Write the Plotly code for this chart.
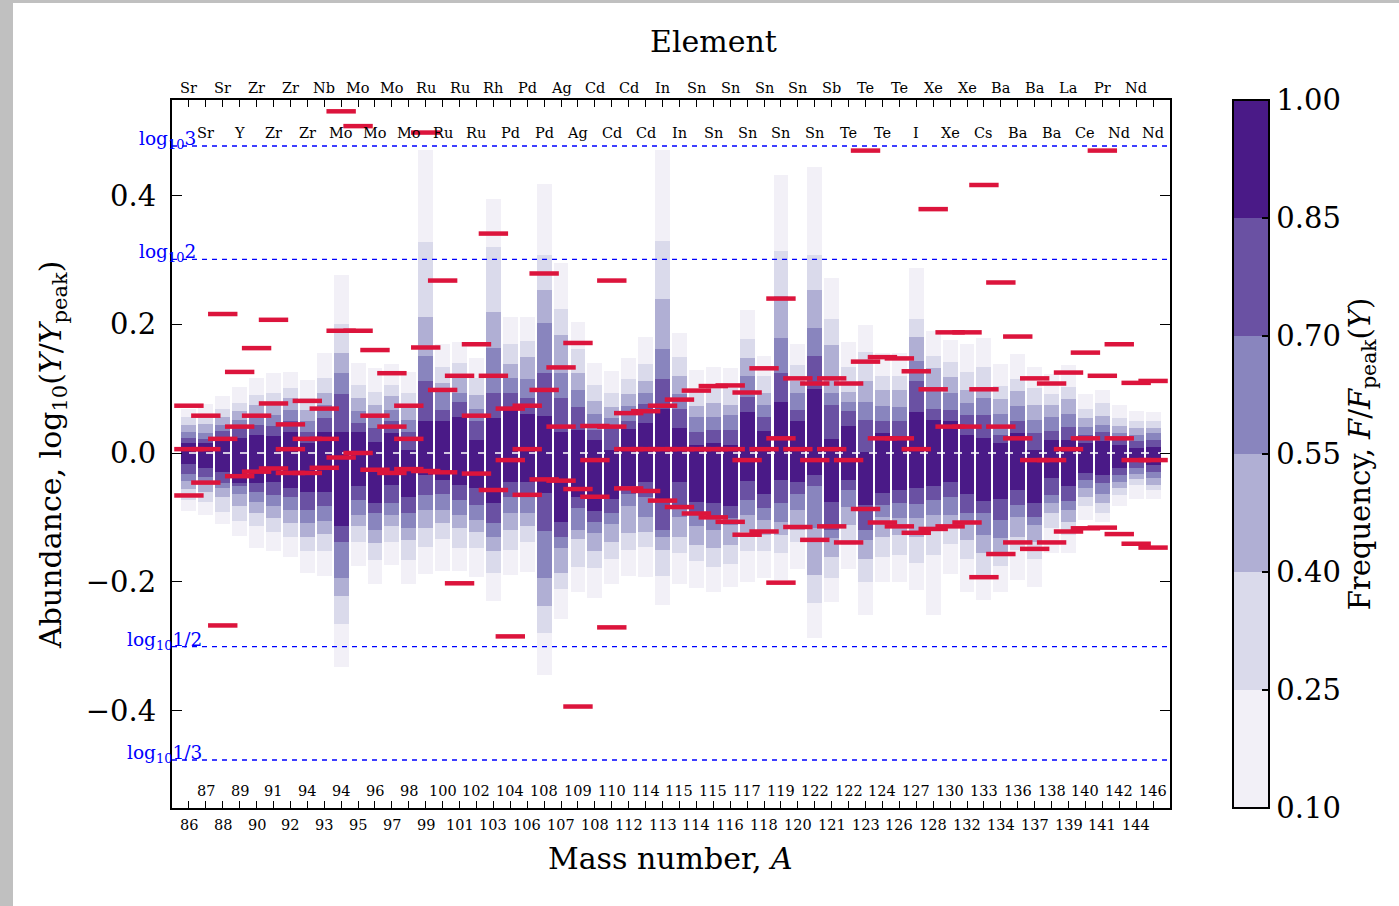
import plotly.graph_objects as go
import math

# ---------------- data ----------------
elem_outer = ["Sr","Sr","Zr","Zr","Nb","Mo","Mo","Ru","Ru","Rh","Pd","Ag","Cd","Cd","In",
              "Sn","Sn","Sn","Sn","Sb","Te","Te","Xe","Xe","Ba","Ba","La","Pr","Nd"]
elem_inner = ["Sr","Y","Zr","Zr","Mo","Mo","Mo","Ru","Ru","Pd","Pd","Ag","Cd","Cd","In",
              "Sn","Sn","Sn","Sn","Te","Te","I","Xe","Cs","Ba","Ba","Ce","Nd","Nd"]
mass_outer = [86,88,90,92,93,95,97,99,101,103,106,107,108,112,113,114,116,118,120,121,
              123,126,128,132,134,137,139,141,144]
mass_inner = [87,89,91,94,94,96,98,100,102,104,108,109,110,114,115,115,117,119,122,122,
              124,127,130,133,136,138,140,142,146]

levels = [0.10, 0.25, 0.40, 0.55, 0.70, 0.85]

top_010 = [0.069,0.076,0.089,0.102,0.116,0.124,0.126,0.114,0.155,0.277,0.140,0.132,0.138,0.126,0.471,
           0.170,0.172,0.148,0.395,0.211,0.211,0.418,0.296,0.204,0.140,0.128,0.147,0.180,0.471,0.186,
           0.129,0.134,0.132,0.222,0.151,0.432,0.169,0.445,0.272,0.172,0.199,0.155,0.155,0.288,0.190,
           0.175,0.170,0.179,0.138,0.154,0.133,0.123,0.136,0.091,0.098,0.075,0.065,0.063]
top_025 = [0.056,0.055,0.069,0.077,0.090,0.094,0.101,0.085,0.116,0.201,0.106,0.095,0.106,0.094,0.328,
           0.134,0.140,0.116,0.320,0.170,0.174,0.307,0.224,0.161,0.106,0.094,0.115,0.138,0.329,0.149,
           0.098,0.103,0.101,0.177,0.120,0.314,0.136,0.307,0.208,0.134,0.157,0.120,0.120,0.208,0.151,
           0.141,0.126,0.134,0.104,0.115,0.101,0.091,0.103,0.068,0.077,0.054,0.050,0.049]
top_040 = [0.043,0.045,0.056,0.065,0.075,0.080,0.085,0.067,0.094,0.155,0.086,0.075,0.088,0.075,0.212,
           0.109,0.120,0.090,0.219,0.138,0.149,0.253,0.183,0.124,0.081,0.071,0.091,0.112,0.239,0.120,
           0.073,0.077,0.075,0.147,0.094,0.244,0.112,0.253,0.168,0.095,0.112,0.098,0.098,0.181,0.132,
           0.118,0.098,0.101,0.084,0.096,0.075,0.075,0.084,0.055,0.057,0.042,0.039,0.039]
top_055 = [0.033,0.031,0.043,0.052,0.059,0.059,0.067,0.049,0.075,0.124,0.065,0.056,0.067,0.052,0.150,
           0.097,0.094,0.069,0.163,0.116,0.115,0.202,0.125,0.098,0.060,0.054,0.073,0.094,0.161,0.091,
           0.056,0.056,0.059,0.120,0.075,0.179,0.094,0.194,0.093,0.080,0.080,0.073,0.071,0.143,0.098,
           0.094,0.078,0.086,0.061,0.073,0.052,0.056,0.061,0.040,0.044,0.031,0.028,0.031]
top_070 = [0.024,0.022,0.034,0.039,0.043,0.042,0.049,0.032,0.054,0.091,0.047,0.039,0.049,0.033,0.112,
           0.067,0.080,0.050,0.093,0.094,0.085,0.124,0.086,0.071,0.035,0.039,0.050,0.076,0.115,0.069,
           0.033,0.035,0.035,0.087,0.056,0.124,0.067,0.150,0.075,0.065,0.052,0.049,0.049,0.112,0.069,
           0.067,0.059,0.059,0.028,0.049,0.031,0.034,0.040,0.028,0.033,0.023,0.019,0.020]
top_085 = [0.015,0.016,0.020,0.024,0.028,0.027,0.032,0.015,0.033,0.033,0.033,0.017,0.031,0.005,0.050,
           0.050,0.056,0.020,0.055,0.069,0.061,0.057,0.033,0.035,0.020,0.005,0.037,0.047,0.068,0.039,
           0.013,0.015,0.013,0.064,0.034,0.080,0.049,0.100,0.022,0.042,0.002,0.031,0.026,0.064,0.052,
           0.050,0.028,0.023,0.015,0.031,0.005,0.020,0.020,0.015,0.018,0.012,0.008,0.010]

bot_010 = [-0.090,-0.096,-0.110,-0.129,-0.147,-0.152,-0.162,-0.186,-0.191,-0.332,-0.176,-0.204,-0.174,-0.203,-0.188,
           -0.184,-0.184,-0.192,-0.230,-0.190,-0.185,-0.345,-0.258,-0.216,-0.226,-0.203,-0.191,-0.192,-0.236,-0.204,
           -0.210,-0.216,-0.208,-0.200,-0.195,-0.197,-0.181,-0.288,-0.231,-0.181,-0.252,-0.201,-0.201,-0.213,-0.252,
           -0.188,-0.216,-0.228,-0.216,-0.197,-0.208,-0.156,-0.156,-0.104,-0.107,-0.082,-0.072,-0.072]
bot_025 = [-0.073,-0.076,-0.091,-0.105,-0.114,-0.122,-0.131,-0.153,-0.153,-0.266,-0.139,-0.166,-0.139,-0.166,-0.146,
           -0.133,-0.147,-0.148,-0.186,-0.151,-0.138,-0.280,-0.212,-0.177,-0.179,-0.165,-0.151,-0.146,-0.191,-0.155,
           -0.168,-0.177,-0.173,-0.153,-0.153,-0.156,-0.139,-0.233,-0.195,-0.143,-0.200,-0.161,-0.158,-0.171,-0.158,
           -0.141,-0.164,-0.192,-0.176,-0.151,-0.165,-0.117,-0.128,-0.082,-0.093,-0.065,-0.050,-0.058]
bot_040 = [-0.056,-0.060,-0.068,-0.082,-0.094,-0.101,-0.109,-0.130,-0.126,-0.222,-0.114,-0.140,-0.114,-0.135,-0.117,
           -0.109,-0.117,-0.122,-0.152,-0.120,-0.114,-0.238,-0.186,-0.134,-0.152,-0.138,-0.125,-0.122,-0.151,-0.130,
           -0.143,-0.147,-0.143,-0.122,-0.128,-0.128,-0.120,-0.190,-0.162,-0.112,-0.165,-0.130,-0.128,-0.130,-0.120,
           -0.117,-0.135,-0.155,-0.158,-0.130,-0.138,-0.094,-0.107,-0.068,-0.077,-0.054,-0.041,-0.050]
bot_055 = [-0.043,-0.047,-0.055,-0.063,-0.076,-0.082,-0.089,-0.108,-0.105,-0.195,-0.096,-0.120,-0.096,-0.117,-0.088,
           -0.089,-0.096,-0.104,-0.130,-0.094,-0.094,-0.195,-0.147,-0.119,-0.125,-0.111,-0.082,-0.099,-0.131,-0.099,
           -0.113,-0.119,-0.112,-0.096,-0.104,-0.107,-0.089,-0.117,-0.132,-0.084,-0.135,-0.100,-0.101,-0.101,-0.096,
           -0.096,-0.107,-0.128,-0.132,-0.099,-0.112,-0.078,-0.089,-0.055,-0.063,-0.045,-0.033,-0.039]
bot_070 = [-0.033,-0.038,-0.047,-0.051,-0.060,-0.065,-0.069,-0.089,-0.082,-0.138,-0.073,-0.094,-0.078,-0.093,-0.065,
           -0.064,-0.073,-0.081,-0.108,-0.068,-0.063,-0.121,-0.130,-0.086,-0.107,-0.094,-0.064,-0.068,-0.119,-0.084,
           -0.096,-0.103,-0.101,-0.073,-0.085,-0.077,-0.063,-0.051,-0.120,-0.057,-0.119,-0.081,-0.078,-0.079,-0.073,
           -0.068,-0.093,-0.094,-0.104,-0.081,-0.099,-0.065,-0.074,-0.042,-0.047,-0.034,-0.024,-0.029]
bot_085 = [-0.017,-0.024,-0.029,-0.047,-0.047,-0.045,-0.054,-0.060,-0.060,-0.113,-0.051,-0.077,-0.050,-0.068,-0.034,
           -0.042,-0.050,-0.054,-0.077,-0.045,-0.045,-0.062,-0.107,-0.068,-0.090,-0.071,-0.052,-0.045,-0.073,-0.045,
           -0.076,-0.078,-0.082,-0.044,-0.063,-0.042,-0.045,-0.034,-0.076,-0.042,-0.081,-0.062,-0.058,-0.054,-0.051,
           -0.045,-0.064,-0.074,-0.072,-0.058,-0.078,-0.039,-0.051,-0.031,-0.034,-0.024,-0.014,-0.019]

red_marks = [
    [0.0735, 0.006, -0.066], [0.058, 0.006, -0.046], [0.216, 0.022, -0.268], [0.126, 0.041, -0.036],
    [0.163, 0.058, -0.029], [0.207, 0.077, -0.024], [0.0445, 0.006, -0.031], [0.081, 0.022, -0.031],
    [0.069, 0.022, -0.023], [0.531, 0.190, -0.007], [0.508, 0.190, 0.0], [0.160, 0.058, -0.026],
    [0.124, 0.041, -0.031], [0.0735, 0.022, -0.025], [0.498, 0.164, -0.028], [0.268, 0.098, -0.030],
    [0.120, -0.2025], [0.169, 0.058, -0.032], [0.341, 0.120, -0.0575], [0.069, -0.011, -0.285],
    [0.0735, 0.006, -0.065], [0.279, 0.098, -0.041], [0.133, 0.041, -0.043], [0.171, -0.056, -0.394],
    [0.042, -0.011, -0.068], [0.268, 0.041, -0.271], [0.062, 0.006, -0.055], [0.065, 0.006, -0.059],
    [0.0735, 0.006, -0.074], [0.083, 0.006, -0.084], [0.097, 0.006, -0.094], [0.104, 0.006, -0.100],
    [0.105, 0.006, -0.107], [0.094, -0.011, -0.127], [0.1316, 0.006, -0.122], [0.240, 0.0228, -0.2015],
    [0.116, 0.006, -0.115], [0.108, -0.011, -0.135], [0.116, 0.006, -0.114], [0.108, -0.011, -0.139],
    [0.470, 0.142, -0.087], [0.149, 0.0228, -0.108], [0.147, 0.0228, -0.114], [0.127, 0.006, -0.124],
    [0.379, 0.099, -0.118], [0.1875, 0.041, -0.114], [0.1875, 0.041, -0.108], [0.4165, 0.099, -0.193],
    [0.265, 0.041, -0.157], [0.181, 0.0228, -0.139], [0.116, -0.011, -0.149], [0.108, -0.011, -0.139],
    [0.125, 0.006, -0.122], [0.156, 0.0228, -0.117], [0.470, 0.120, -0.116], [0.169, 0.0228, -0.126],
    [0.109, -0.011, -0.141], [0.112, -0.011, -0.147],
]

ref_lines = [(3, "3"), (2, "2"), (1/2, "1/2"), (1/3, "1/3")]

# ---------------- styling ----------------
level_colors = ["#f2f0f7", "#dadaeb", "#b0afd4", "#8985be", "#6a51a3", "#4a1a87"]
SERIF = "DejaVu Serif"
PL, PT, PW, PH = 172, 100, 998, 708   # plot area in pixels


def px_x(px):
    return (px - PL) / PW


def px_y(py):
    return (PT + PH - py) / PH


ncol = len(top_010)
cols = list(range(ncol))
tops = [top_010, top_025, top_040, top_055, top_070, top_085]
bots = [bot_010, bot_025, bot_040, bot_055, bot_070, bot_085]

fig = go.Figure()

for lev, col, t, b in zip(levels, level_colors, tops, bots):
    fig.add_trace(go.Bar(
        x=cols, y=[ti - bi for ti, bi in zip(t, b)], base=b, width=0.88,
        marker=dict(color=col, line=dict(width=0)), showlegend=False, hoverinfo="skip"))

# zero line (white dashed)
fig.add_trace(go.Scatter(x=[-1, ncol], y=[0, 0], mode="lines",
                         line=dict(color="white", width=1.5, dash="8px,9px"),
                         showlegend=False, hoverinfo="skip"))

# reference lines
for val, _ in ref_lines:
    v = math.log10(val)
    fig.add_trace(go.Scatter(x=[-1, ncol], y=[v, v], mode="lines",
                             line=dict(color="blue", width=1.3, dash="5px,5px"),
                             showlegend=False, hoverinfo="skip"))

# red markers
rx, ry = [], []
for i, marks in enumerate(red_marks):
    for m in marks:
        rx.append(i)
        ry.append(m)
fig.add_trace(go.Scatter(x=rx, y=ry, mode="markers",
                         marker=dict(symbol="line-ew", size=21, color="#dc143c",
                                     line=dict(width=4.5, color="#dc143c")),
                         showlegend=False, hoverinfo="skip"))

# colorbar carrier
cscale = []
for i, c in enumerate(level_colors):
    cscale.append([i / 6, c])
    cscale.append([(i + 1) / 6, c])
cb_ticks = [0.10, 0.25, 0.40, 0.55, 0.70, 0.85, 1.00]
fig.add_trace(go.Scatter(
    x=[0, 0], y=[5, 5], mode="markers", showlegend=False, hoverinfo="skip",
    marker=dict(color=[0.1, 1.0], cmin=0.1, cmax=1.0, colorscale=cscale, showscale=True,
                colorbar=dict(
                    x=px_x(1233), xanchor="left", xpad=0, ypad=0, y=0.5, yanchor="middle",
                    len=1, lenmode="fraction", thickness=36, thicknessmode="pixels",
                    outlinewidth=2, outlinecolor="black",
                    tickvals=cb_ticks, ticktext=[f"{v:.2f}" for v in cb_ticks],
                    ticks="inside", ticklen=8, tickwidth=1.5, tickcolor="black",
                    tickfont=dict(family=SERIF, size=29, color="black"),
                    title=dict(text="Frequency, <i>F</i>/<i>F</i><sub>peak</sub>(<i>Y</i>)",
                               side="right", font=dict(family=SERIF, size=29, color="black")),
                ))))

# dummy trace for top axis
fig.add_trace(go.Scatter(x=[0], y=[5], xaxis="x2", mode="markers",
                         marker=dict(opacity=0), showlegend=False, hoverinfo="skip"))

xr = [-1, ncol]

fig.update_layout(
    width=1399, height=906,
    margin=dict(l=PL, r=1399 - PL - PW, t=PT, b=906 - PT - PH),
    paper_bgcolor="white", plot_bgcolor="white",
    barmode="overlay", bargap=0,
    font=dict(family=SERIF, color="black"),
    xaxis=dict(range=xr, tickvals=cols, showticklabels=False, ticks="inside", ticklen=7,
               tickwidth=1, tickcolor="black", showline=True, linewidth=2, linecolor="black",
               showgrid=False, zeroline=False),
    xaxis2=dict(range=xr, overlaying="x", side="top", anchor="y", tickvals=cols,
                showticklabels=False, ticks="inside", ticklen=7, tickwidth=1, tickcolor="black",
                showline=True, linewidth=2, linecolor="black", showgrid=False, zeroline=False),
    yaxis=dict(range=[-0.5517, 0.5486], tickvals=[-0.4, -0.2, 0.0, 0.2, 0.4],
               ticktext=["\u22120.4", "\u22120.2", "0.0", "0.2", "0.4"],
               ticks="inside", ticklen=10, tickwidth=1, tickcolor="black",
               showline=True, linewidth=2, linecolor="black", mirror="ticks",
               showgrid=False, zeroline=False, tickfont=dict(family=SERIF, size=29),
               ticklabelstandoff=8),
)

ann = []
small = dict(family=SERIF, size=14.5, color="black")
# tick label rows (outer at even columns, inner at odd columns)
for k in range(len(mass_outer)):
    ce = 2 * k
    ann.append(dict(x=ce, y=px_y(825), xref="x", yref="paper", text=str(mass_outer[k]),
                    showarrow=False, font=small, xanchor="center", yanchor="middle"))
    ann.append(dict(x=ce, y=px_y(88), xref="x", yref="paper", text=elem_outer[k],
                    showarrow=False, font=small, xanchor="center", yanchor="middle"))
for k in range(len(mass_inner)):
    ci = 2 * k + 1
    ann.append(dict(x=ci, y=px_y(791), xref="x", yref="paper", text=str(mass_inner[k]),
                    showarrow=False, font=small, xanchor="center", yanchor="middle"))
    ann.append(dict(x=ci, y=px_y(133), xref="x", yref="paper", text=elem_inner[k],
                    showarrow=False, font=small, xanchor="center", yanchor="middle"))
# reference line labels
for val, lab in ref_lines:
    xpx = 137 if val > 1 else 125
    ann.append(dict(x=px_x(xpx), y=math.log10(val), xref="paper", yref="y",
                    text=f"log<sub>10</sub>{lab}", showarrow=False, xanchor="left",
                    yanchor="middle", yshift=6,
                    font=dict(family=SERIF, size=18.5, color="blue")))
# titles
ann.append(dict(x=px_x(713), y=px_y(42), xref="paper", yref="paper", xanchor="center",
                yanchor="middle", text="Element", showarrow=False,
                font=dict(family=SERIF, size=30)))
ann.append(dict(x=px_x(670), y=px_y(858), xref="paper", yref="paper", xanchor="center",
                yanchor="middle", text="Mass number, <i>A</i>", showarrow=False,
                font=dict(family=SERIF, size=30)))
ann.append(dict(x=px_x(52), y=px_y(455), xref="paper", yref="paper", xanchor="center",
                yanchor="middle",
                text="Abundance, log<sub>10</sub>(<i>Y</i>/<i>Y</i><sub>peak</sub>)",
                textangle=-90, showarrow=False, font=dict(family=SERIF, size=30)))
fig.update_layout(annotations=ann)

# screenshot frame (gray strips)
fig.update_layout(shapes=[
    dict(type="rect", xref="paper", yref="paper", x0=px_x(0), x1=px_x(13),
         y0=px_y(906), y1=px_y(0), fillcolor="#c0c0c0", line=dict(width=0)),
    dict(type="rect", xref="paper", yref="paper", x0=px_x(0), x1=px_x(1399),
         y0=px_y(3), y1=px_y(0), fillcolor="#c0c0c0", line=dict(width=0)),
])

fig.write_html("out.html")
